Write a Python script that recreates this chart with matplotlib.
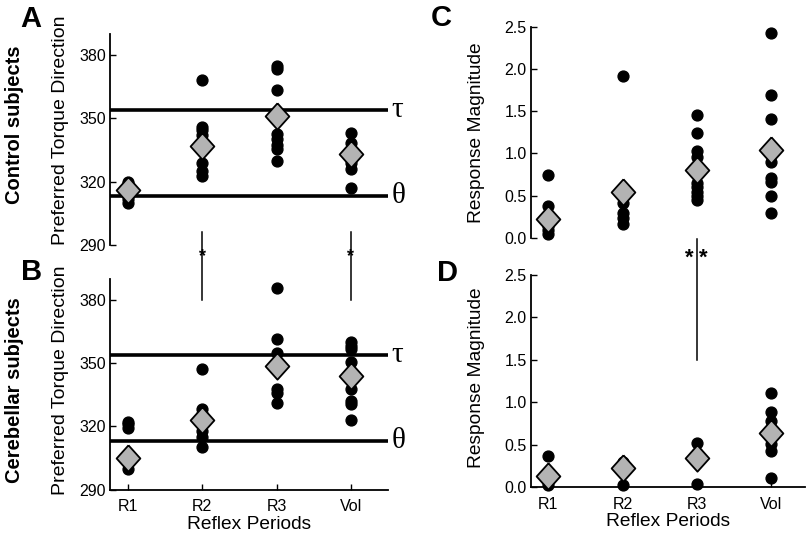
import numpy as np
import matplotlib
matplotlib.use('Agg')
import matplotlib.pyplot as plt

plt.rcParams['font.family'] = ['Liberation Sans', 'DejaVu Sans']

# Categorias del eje x
periodos = ['R1', 'R2', 'R3', 'Vol']

# Direccion preferida de torque - sujetos control (panel A)
ctrl_dir_r1 = [310, 312, 316, 319, 320]
ctrl_dir_r2 = [368, 346, 344.5, 342, 329, 325, 322.5]
ctrl_dir_r3 = [375, 373.5, 363.5, 342.5, 340, 337.5, 335.5, 330]
ctrl_dir_vol = [343, 338.5, 329, 326, 317]
ctrl_dir_media = [316, 337, 351, 333]

# Direccion preferida de torque - sujetos cerebelosos (panel B)
cer_dir_r1 = [322, 321, 319.5, 300]
cer_dir_r2 = [347.5, 328.5, 326, 318, 315, 310]
cer_dir_r3 = [386, 361.5, 355, 338, 336, 331]
cer_dir_vol = [360, 358.5, 357, 350.5, 338, 332, 330.5, 323]
cer_dir_media = [305, 323, 349, 344]

# Magnitud de respuesta - control (panel C)
ctrl_mag_r1 = [0.75, 0.38, 0.14, 0.09, 0.05]
ctrl_mag_r2 = [1.92, 0.42, 0.30, 0.24, 0.17]
ctrl_mag_r3 = [1.46, 1.24, 1.03, 0.96, 0.65, 0.6, 0.55, 0.5, 0.45]
ctrl_mag_vol = [2.42, 1.69, 1.41, 0.9, 0.71, 0.66, 0.5, 0.3]
ctrl_mag_media = [0.22, 0.55, 0.81, 1.04]

# Magnitud de respuesta - cerebelosos (panel D)
cer_mag_r1 = [0.36, 0.1, 0.02]
cer_mag_r2 = [0.02, 0.25, 0.3]
cer_mag_r3 = [0.52, 0.03, 0.4]
cer_mag_vol = [1.11, 0.89, 0.78, 0.51, 0.42, 0.11]
cer_mag_media = [0.13, 0.22, 0.34, 0.64]

# Direcciones de referencia
tau = 354
theta = 313

# Diamante un poco mas alto que ancho
diamante = [(0, 1), (0.9, 0), (0, -1), (-0.9, 0), (0, 1)]
x = np.arange(1, len(periodos) + 1)


def dibujar(ax, grupos, medias):
    for i, vals in enumerate(grupos):
        ax.plot([x[i]] * len(vals), vals, 'o', color='black', markersize=7.8,
                clip_on=False, zorder=3)
    ax.plot(x, medias, linestyle='none', marker=diamante, markersize=19,
            markerfacecolor='#b3b3b3', markeredgecolor='black',
            markeredgewidth=1.3, clip_on=False, zorder=4)


fig = plt.figure(figsize=(8.1, 5.35), dpi=100)
ax_a = fig.add_axes([0.1358, 0.5421, 0.3432, 0.3944])
ax_b = fig.add_axes([0.1358, 0.0850, 0.3432, 0.3929])
ax_c = fig.add_axes([0.6556, 0.5551, 0.3383, 0.3950])
ax_d = fig.add_axes([0.6556, 0.0897, 0.3383, 0.3963])

dibujar(ax_a, [ctrl_dir_r1, ctrl_dir_r2, ctrl_dir_r3, ctrl_dir_vol], ctrl_dir_media)
dibujar(ax_b, [cer_dir_r1, cer_dir_r2, cer_dir_r3, cer_dir_vol], cer_dir_media)
dibujar(ax_c, [ctrl_mag_r1, ctrl_mag_r2, ctrl_mag_r3, ctrl_mag_vol], ctrl_mag_media)
dibujar(ax_d, [cer_mag_r1, cer_mag_r2, cer_mag_r3, cer_mag_vol], cer_mag_media)

# Ejes de direccion (A y B)
for ax in [ax_a, ax_b]:
    ax.set_xlim(0.757, 4.5)
    ax.set_ylim(290, 390)
    ax.set_yticks([290, 320, 350, 380])
    ax.axhline(tau, color='black', linewidth=2.6, zorder=2)
    ax.axhline(theta, color='black', linewidth=2.6, zorder=2)
    ax.text(4.55, tau, 'τ', family='Liberation Serif', fontsize=21,
            ha='left', va='center')
    ax.text(4.55, theta, 'θ', family='Liberation Serif', fontsize=21,
            ha='left', va='center')
    ax.set_ylabel('Preferred Torque Direction', fontsize=14)

# Ejes de magnitud (C y D)
for ax in [ax_c, ax_d]:
    ax.set_xlim(0.766, 4.46)
    ax.set_ylim(0, 2.5)
    ax.set_yticks([0, 0.5, 1.0, 1.5, 2.0, 2.5])
    ax.set_yticklabels(['0.0', '0.5', '1.0', '1.5', '2.0', '2.5'])
    ax.set_ylabel('Response Magnitude', fontsize=13.8)

for ax in [ax_a, ax_b, ax_c, ax_d]:
    ax.spines['top'].set_visible(False)
    ax.spines['right'].set_visible(False)
    ax.spines['left'].set_linewidth(1.3)
    ax.spines['bottom'].set_linewidth(1.3)
    ax.tick_params(direction='in', length=4, width=1, labelsize=11.5, pad=3)
    ax.tick_params(axis='x', pad=7)

# Paneles superiores sin eje x
for ax in [ax_a, ax_c]:
    ax.spines['bottom'].set_visible(False)
    ax.set_xticks([])

for ax in [ax_b, ax_d]:
    ax.set_xticks(x)
    ax.set_xticklabels(periodos)
    ax.set_xlabel('Reflex Periods', fontsize=13.8, labelpad=1)

ax_a.yaxis.set_label_coords(-0.148, 0.545)
ax_b.yaxis.set_label_coords(-0.148, 0.519)
ax_c.yaxis.set_label_coords(-0.168, 0.50)
ax_d.yaxis.set_label_coords(-0.168, 0.517)

# Marcas de significancia entre A y B
for xi in [2, 4]:
    ax_b.plot([xi, xi], [380, 412.4], color='black', linewidth=1.1, clip_on=False)
    ax_b.text(xi, 401, '*', fontsize=13, fontweight='bold', ha='center', va='center')

# Marca de significancia entre C y D
ax_d.plot([3, 3], [1.5, 2.93], color='black', linewidth=1.1, clip_on=False)
ax_d.text(3 - 0.1, 2.70, '*', fontsize=16, fontweight='bold', ha='center', va='center')
ax_d.text(3 + 0.09, 2.70, '*', fontsize=16, fontweight='bold', ha='center', va='center')

# Letras de panel y etiquetas de grupo
fig.text(31 / 810, 1 - 19 / 535, 'A', fontsize=21, fontweight='bold', ha='center', va='center')
fig.text(32 / 810, 1 - 272 / 535, 'B', fontsize=21, fontweight='bold', ha='center', va='center')
fig.text(441 / 810, 1 - 18 / 535, 'C', fontsize=21, fontweight='bold', ha='center', va='center')
fig.text(448 / 810, 1 - 273 / 535, 'D', fontsize=21, fontweight='bold', ha='center', va='center')
fig.text(15 / 810, 1 - 125 / 535, 'Control subjects', fontsize=14.5, fontweight='bold',
         rotation=90, ha='center', va='center')
fig.text(15 / 810, 1 - 390 / 535, 'Cerebellar subjects', fontsize=14.5, fontweight='bold',
         rotation=90, ha='center', va='center')

fig.savefig('out.png', dpi=100)
